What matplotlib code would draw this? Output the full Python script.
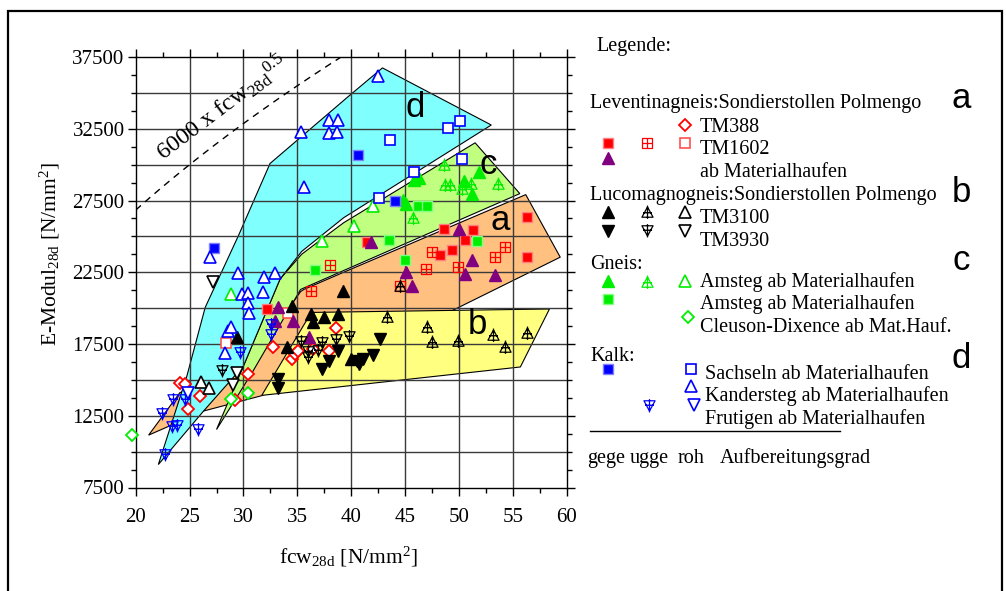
import matplotlib
matplotlib.use('Agg')
import matplotlib.pyplot as plt
from matplotlib.path import Path
from matplotlib.patches import Polygon, Rectangle
import numpy as np

plt.rcParams['font.family'] = ['Liberation Serif', 'DejaVu Serif']
plt.rcParams['mathtext.fontset'] = 'custom'
plt.rcParams['mathtext.rm'] = 'Liberation Serif'
plt.rcParams['mathtext.it'] = 'Liberation Serif:italic'
plt.rcParams['mathtext.bf'] = 'Liberation Serif:bold'

# ---- data (fcw28d [N/mm2], E-Modul28d [N/mm2]) ----
# Leventinagneis (a)
lev_gege_x = [56.3, 48.6, 51.3, 50.6, 49.4, 48.2, 56.3, 41.5, 32.2]
lev_gege_y = [26350, 25480, 25460, 24760, 24060, 23710, 23550, 24600, 19940]
lev_ugge_x = [47.5, 54.3, 53.3, 46.9, 49.9, 38.0, 36.3, 44.5]
lev_ugge_y = [23900, 24250, 23550, 22730, 22900, 23040, 21220, 21520]
lev_tm1602_x = [28.4, 34.1]
lev_tm1602_y = [17560, 19630]
lev_tm388_x = [24.1, 24.6, 26.0, 24.9, 29.2, 30.4, 32.7, 38.6, 34.5, 34.8, 35.1, 37.9, 36.5]
lev_tm388_y = [14810, 14740, 13880, 12990, 13570, 15390, 17300, 18610, 16440, 16790, 17020, 17020, 17150]
lev_mat_x = [41.8, 50.0, 51.2, 45.1, 50.6, 53.3, 45.6, 33.2, 32.9, 34.6, 36.1]
lev_mat_y = [24600, 25530, 23320, 22500, 22380, 22310, 21570, 20050, 19070, 19120, 17960]

# Lucomagnogneis (b)
tm3100_gege_x = [29.4, 34.5, 36.3, 36.5, 37.5, 38.8, 39.2, 34.0, 40.0]
tm3100_gege_y = [17960, 20170, 19580, 19000, 19350, 19580, 21210, 17260, 16440]
tm3100_ugge_x = [43.3, 47.0, 47.5, 49.9, 53.2, 54.3, 56.3, 44.5]
tm3100_ugge_y = [19350, 18650, 17610, 17680, 18140, 17260, 18260, 21520]
tm3100_roh_x = [26.1, 26.8]
tm3100_roh_y = [14850, 14460]
tm3930_gege_x = [33.2, 33.2, 37.3, 37.9, 38.8, 40.5, 41.1, 40.7, 42.0, 42.7]
tm3930_gege_y = [15040, 14460, 15740, 16320, 17020, 16320, 16440, 16090, 16740, 17840]
tm3930_ugge_x = [35.3, 38.6, 39.8, 36.0, 37.3, 36.0, 28.0, 36.9]
tm3930_ugge_y = [17720, 17840, 18070, 17020, 17610, 16560, 15690, 17100]
tm3930_roh_x = [27.2, 29.4, 29.0]
tm3930_roh_y = [21800, 15510, 14620]

# Gneis (c)
amsteg_gege_x = [45.8, 46.3, 51.9, 50.5, 51.2, 44.8, 45.1]
amsteg_gege_y = [28910, 29100, 29490, 28860, 27980, 27560, 27280]
amsteg_ugge_x = [48.6, 48.7, 49.2, 50.3, 51.1, 53.6, 45.7]
amsteg_ugge_y = [29960, 28560, 28560, 28330, 28680, 28680, 26300]
amsteg_roh_x = [42.0, 40.3, 37.3, 28.8]
amsteg_roh_y = [27090, 25690, 24670, 20990]
amsteg2_gege_x = [46.2, 47.0, 43.5, 45.0, 51.7, 36.6]
amsteg2_gege_y = [27090, 27090, 24760, 23360, 24650, 22660]
cleuson_x = [28.8, 30.4, 19.7]
cleuson_y = [13690, 14060, 11190]

# Kalk (d)
sachseln_gege_x = [40.6, 44.1, 27.3]
sachseln_gege_y = [30660, 27440, 24200]
sachseln_roh_x = [43.6, 49.0, 50.1, 50.3, 45.8, 42.6]
sachseln_roh_y = [31750, 32570, 33040, 30360, 29490, 27700]
kander_x = [42.5, 35.3, 37.9, 38.8, 37.9, 38.7, 35.6, 26.9, 29.5, 31.9, 32.9,
            29.9, 30.4, 31.8, 30.4, 30.5, 28.6, 28.8, 28.3]
kander_y = [36210, 32290, 33110, 33110, 32170, 32290, 28440, 23550, 22450, 22150, 22450,
            20990, 21060, 21100, 20360, 19630, 18420, 18650, 16860]
frutigen_ugge_x = [22.4, 23.5, 24.6, 22.7, 23.4, 23.8, 25.8, 29.7, 32.6, 32.6]
frutigen_ugge_y = [12710, 13640, 13640, 9800, 11780, 11890, 11590, 16910, 18890, 18190]
frutigen_roh_x = [24.9]
frutigen_roh_y = [14110]

# areas
area_a_x = [21.2, 26.3, 31.7, 47.9, 59.4, 56.2, 39.3, 35.6, 35.3, 30.5, 24.1]
area_a_y = [11150, 12830, 13900, 19280, 23550, 27910, 22500, 21300, 21150, 16000, 14110]
area_b_x = [31.7, 36.3, 58.4, 55.7]
area_b_y = [13920, 19700, 19940, 15900]
area_c_x = [51.5, 55.65, 39.3, 35.3, 30.8, 27.5, 30.0, 33.4, 35.4, 37.3, 39.3]
area_c_y = [31520, 27980, 22620, 21300, 15500, 11540, 15970, 22030, 23750, 24830, 25950]
area_d_x = [42.9, 53.0, 39.3, 35.4, 33.4, 30.0, 26.3, 22.1, 24.75, 26.45, 29.54, 32.47, 39.72]
area_d_y = [36740, 32760, 26300, 23950, 22030, 15970, 12830, 9100, 15270, 20050, 25060, 30080, 34740]

# ---- marker shapes ----
M, L, C = Path.MOVETO, Path.LINETO, Path.CLOSEPOLY


def crossed_tri(up=True):
    s = 1 if up else -1
    verts = [(-1, -0.85 * s), (1, -0.85 * s), (0, 1.0 * s), (0, 0),
             (0, 1.25 * s), (0, -1.15 * s), (-0.8, -0.05 * s), (0.8, -0.05 * s)]
    return Path(verts, [M, L, L, C, M, L, M, L])


square_plus = Path([(-1, -1), (1, -1), (1, 1), (-1, 1), (0, 0),
                    (0, -1), (0, 1), (-1, 0), (1, 0)],
                   [M, L, L, L, C, M, L, M, L])
tri_up_x = crossed_tri(True)
tri_dn_x = crossed_tri(False)

RED, PUR, BLK, GRN, BLU = '#ff0000', '#800080', '#000000', '#00ee00', '#0000ff'

styles = {
    'gege_sq': dict(marker='s', ms=6.5, mew=1.0),
    'ugge_sq': dict(marker=square_plus, ms=7, mew=0.9, mfc='none'),
    'roh_sq': dict(marker='s', ms=7, mew=1.2, mfc='white'),
    'diam': dict(marker='D', ms=6, mew=1.3, mfc='white'),
    'tri': dict(marker='^', ms=8.5, mew=1.0),
    'tri_dn': dict(marker='v', ms=8.5, mew=1.0),
    'tri_x': dict(marker=tri_up_x, ms=10, mew=0.9, mfc='none'),
    'tri_dn_x': dict(marker=tri_dn_x, ms=10, mew=0.9, mfc='none'),
    'tri_o': dict(marker='^', ms=8.5, mew=1.2, mfc='white'),
    'tri_dn_o': dict(marker='v', ms=8.5, mew=1.2, mfc='white'),
}


def mark(ax, x, y, kind, col, fill=None, edge=None):
    st = dict(styles[kind])
    if 'mfc' not in st:
        st['mfc'] = fill if fill else col
    st['mec'] = edge if edge else col
    ax.plot(x, y, ls='none', zorder=4, clip_on=False, **st)


fig = plt.figure(figsize=(10.06, 5.91), dpi=100)
ax = fig.add_axes([135.7 / 1006, 1 - 487.5 / 591, 431 / 1006, 430.5 / 591])

for xs, ys, col in [(area_a_x, area_a_y, '#ffc080'), (area_b_x, area_b_y, '#ffff80'),
                    (area_c_x, area_c_y, '#c0ff80'), (area_d_x, area_d_y, '#80ffff')]:
    ax.add_patch(Polygon(np.column_stack([xs, ys]), closed=True, fc=col, ec='black',
                         lw=0.8, zorder=1))

for gx in range(25, 60, 5):
    ax.axvline(gx, color='#3a3a3a', lw=1.0, zorder=2)
for gy in range(10000, 37500, 2500):
    ax.axhline(gy, color='#3a3a3a', lw=1.0, zorder=2)

# 6000 x fcw^0.5
fx = np.linspace(20, 40, 200)
ax.plot(fx, 6000 * np.sqrt(fx), color='black', lw=1.0, dashes=(5, 4), zorder=2)
ax.text(22.6, 30250, r'6000 x fcw$_{\mathrm{28d}}$$^{\mathrm{0.5}}$', fontsize=17.5,
        rotation=37, rotation_mode='anchor', ha='left', va='baseline', zorder=3)

# points
mark(ax, lev_gege_x, lev_gege_y, 'gege_sq', RED, edge='#ff8080')
mark(ax, lev_ugge_x, lev_ugge_y, 'ugge_sq', RED)
mark(ax, lev_tm1602_x, lev_tm1602_y, 'roh_sq', '#ff5050')
mark(ax, lev_tm388_x, lev_tm388_y, 'diam', RED)
mark(ax, lev_mat_x, lev_mat_y, 'tri', PUR)
mark(ax, tm3100_gege_x, tm3100_gege_y, 'tri', BLK)
mark(ax, tm3100_ugge_x, tm3100_ugge_y, 'tri_x', BLK)
mark(ax, tm3100_roh_x, tm3100_roh_y, 'tri_o', BLK)
mark(ax, tm3930_gege_x, tm3930_gege_y, 'tri_dn', BLK)
mark(ax, tm3930_ugge_x, tm3930_ugge_y, 'tri_dn_x', BLK)
mark(ax, tm3930_roh_x, tm3930_roh_y, 'tri_dn_o', BLK)
mark(ax, amsteg_gege_x, amsteg_gege_y, 'tri', GRN)
mark(ax, amsteg_ugge_x, amsteg_ugge_y, 'tri_x', GRN)
mark(ax, amsteg_roh_x, amsteg_roh_y, 'tri_o', GRN)
mark(ax, amsteg2_gege_x, amsteg2_gege_y, 'gege_sq', GRN, edge='#80ff80')
mark(ax, cleuson_x, cleuson_y, 'diam', GRN)
mark(ax, sachseln_gege_x, sachseln_gege_y, 'gege_sq', BLU, edge='#8080ff')
mark(ax, sachseln_roh_x, sachseln_roh_y, 'roh_sq', BLU)
mark(ax, kander_x, kander_y, 'tri_o', BLU)
mark(ax, frutigen_ugge_x, frutigen_ugge_y, 'tri_dn_x', BLU)
mark(ax, frutigen_roh_x, frutigen_roh_y, 'tri_dn_o', BLU)

for lx, ly, t in [(45.9, 33340, 'd'), (52.7, 29370, 'c'), (53.8, 25410, 'a'), (51.7, 18190, 'b')]:
    ax.text(lx, ly, t, fontsize=25, family='Liberation Sans', ha='center', va='baseline',
            zorder=5)

ax.set_xlim(20, 60)
ax.set_ylim(7500, 37500)
ax.set_xticks(np.arange(20, 61, 5))
ax.set_xticks(np.arange(20, 60.1, 2.5), minor=True)
ax.set_yticks(np.arange(7500, 37501, 5000))
ax.set_yticks(np.arange(7500, 37501, 1250), minor=True)
ax.tick_params(which='both', direction='out', top=True, right=True, width=1, labelsize=15,
               colors='black')
ax.tick_params(which='major', length=6)
ax.tick_params(which='minor', length=3.5)
ax.tick_params(axis='x', which='major', pad=9)
ax.tick_params(axis='y', which='major', pad=2)
for sp in ax.spines.values():
    sp.set_linewidth(1.0)

fig.text(348 / 1006, 1 - 563 / 591, r'fcw$_{\mathrm{28d}}$ [N/mm$^{\mathrm{2}}$]', fontsize=15.5,
         ha='center', va='baseline')
fig.text(56 / 1006, 1 - 254 / 591, r'E-Modul$_{\mathrm{28d}}$ [N/mm$^{\mathrm{2}}$]', fontsize=15.5,
         rotation=90, rotation_mode='anchor', ha='center', va='baseline')

# ---- legend (pixel coordinates) ----
lg = fig.add_axes([0, 0, 1, 1])
lg.set_xlim(0, 1006)
lg.set_ylim(591, 0)
lg.axis('off')

FS = 14.5
texts = [
    (596, 50.7, 'Legende:'),
    (590, 108.3, 'Leventinagneis:Sondierstollen Polmengo'),
    (700, 132.3, 'TM388'),
    (700, 154.3, 'TM1602'),
    (700, 176.7, 'ab Materialhaufen'),
    (590, 200.0, 'Lucomagnogneis:Sondierstollen Polmengo'),
    (700, 222.7, 'TM3100'),
    (700, 246.0, 'TM3930'),
    (590, 269.0, 'Gneis:'),
    (700, 286.7, 'Amsteg ab Materialhaufen'),
    (700, 309.3, 'Amsteg ab Materialhaufen'),
    (700, 331.7, 'Cleuson-Dixence ab Mat.Hauf.'),
    (590, 360.7, 'Kalk:'),
    (705, 379.3, 'Sachseln ab Materialhaufen'),
    (705, 401.0, 'Kandersteg ab Materialhaufen'),
    (705, 424.0, 'Frutigen ab Materialhaufen'),
    (586.7, 462.7, 'gege'),
    (630, 462.7, 'ugge'),
    (678, 462.7, 'roh'),
    (720, 462.7, 'Aufbereitungsgrad'),
]
for tx, ty, t in texts:
    lg.text(tx, ty, t, fontsize=FS, ha='left', va='baseline')
for ty, t in [(108.3, 'a'), (201.7, 'b'), (270, 'c'), (368.3, 'd')]:
    lg.text(961, ty, t, fontsize=25, family='Liberation Sans', ha='center', va='baseline')
lg.plot([590, 840], [431, 431], color='black', lw=1.0)

mark(lg, [685], [125], 'diam', RED)
mark(lg, [607.7], [142.7], 'gege_sq', RED, edge='#ff8080')
mark(lg, [646.7], [142.7], 'ugge_sq', RED)
mark(lg, [685], [142.7], 'roh_sq', '#ff5050')
mark(lg, [607.7], [158.3], 'tri', PUR)
mark(lg, [607.7], [211.7], 'tri', BLK)
mark(lg, [646.7], [212.3], 'tri_x', BLK)
mark(lg, [685], [211.7], 'tri_o', BLK)
mark(lg, [607.7], [230.7], 'tri_dn', BLK)
mark(lg, [646.7], [230.0], 'tri_dn_x', BLK)
mark(lg, [685], [230.7], 'tri_dn_o', BLK)
mark(lg, [607.7], [281], 'tri', GRN)
mark(lg, [646.7], [282.3], 'tri_x', GRN)
mark(lg, [685], [281], 'tri_o', GRN)
mark(lg, [607.7], [299.3], 'gege_sq', GRN, edge='#80ff80')
mark(lg, [688.3], [317.3], 'diam', GRN)
mark(lg, [607.7], [369.3], 'gege_sq', BLU, edge='#8080ff')
mark(lg, [691], [369.3], 'roh_sq', BLU)
mark(lg, [691], [386], 'tri_o', BLU)
mark(lg, [649.3], [405], 'tri_dn_x', BLU)
mark(lg, [694.3], [405], 'tri_dn_o', BLU)

fig.patches.append(Rectangle((8 / 1006, -0.02), 994 / 1006, 1 - 11 / 591 + 0.02,
                             transform=fig.transFigure, fill=False, ec='black', lw=1.6))

fig.savefig('out.png', dpi=100)
